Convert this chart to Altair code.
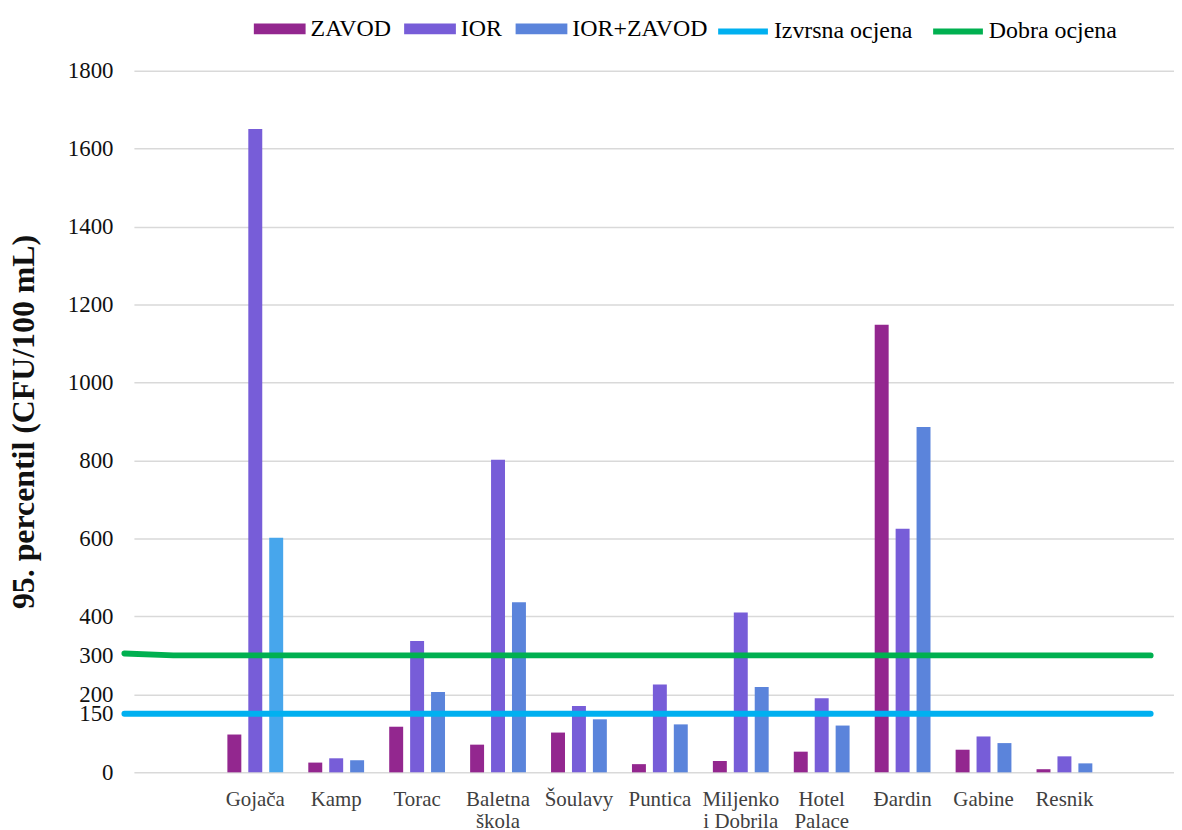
import altair as alt
import pandas as pd

# ---------------- data ----------------
sites = ["Gojača", "Kamp", "Torac", "Baletna škola", "Šoulavy", "Puntica",
         "Miljenko i Dobrila", "Hotel Palace", "Đardin", "Gabine", "Resnik"]
zavod = [97, 25, 117, 71, 102, 21, 29, 53, 1148, 58, 8]
ior = [1650, 36, 337, 802, 170, 225, 410, 190, 625, 92, 41]
ior_zavod = [602, 31, 206, 436, 136, 123, 219, 120, 886, 75, 23]

series_names = ["ZAVOD", "IOR", "IOR+ZAVOD"]
series_colors = ["#93278F", "#775DD8", "#5B84DB"]
highlight_color = "#47A6EC"

# threshold lines (sampled points along the chart)
line_pos = [0, 1, 2, 3, 4, 5, 6, 7, 8, 9, 10, 11, 12, 13, 14, 15, 16, 17, 18, 19, 20, 21]
izvrsna = [150, 150, 150, 150, 150, 150, 150, 150, 150, 150, 150,
           150, 150, 150, 150, 150, 150, 150, 150, 150, 150, 150]
dobra = [305, 300, 300, 300, 300, 300, 300, 300, 300, 300, 300,
         300, 300, 300, 300, 300, 300, 300, 300, 300, 300, 300]
line_names = ["Izvrsna ocjena", "Dobra ocjena"]
line_colors = ["#00B0F0", "#00B050"]

y_ticks = [0, 150, 200, 300, 400, 600, 800, 1000, 1200, 1400, 1600, 1800]
x_domain = [" "] + sites
Y_TITLE = "95. percentil (CFU/100 mL)"

# ---------------- tables ----------------
rows = []
for name, vals in zip(series_names, [zavod, ior, ior_zavod]):
    for s, v in zip(sites, vals):
        rows.append({"site": s, "series": name, "value": v})
bar_df = pd.DataFrame(rows)

lrows = []
for name, vals in zip(line_names, [izvrsna, dobra]):
    for p, v in zip(line_pos, vals):
        lrows.append({"pos": p, "series": name, "value": v})
line_df = pd.DataFrame(lrows)

FONT = "Liberation Serif"
W, H = 1045, 705

y_axis = alt.Axis(
    values=y_ticks, format="d", labelOverlap=False, grid=True, gridColor="#d9d9d9", gridWidth=1.5,
    gridOpacity={"condition": {"test": "datum.value === 150 || datum.value === 300", "value": 0}, "value": 1},
    domain=False, ticks=False, tickSize=0,
    labelFont=FONT, labelFontSize=23, labelColor="#111111", labelPadding=21,
    title=Y_TITLE, titleFont=FONT, titleFontSize=32,
    titleFontWeight="bold", titleColor="#111111", titleAngle=270,
    titleX=-101, titleY=H / 2, titleAlign="center", titleBaseline="alphabetic",
)
y_scale = alt.Scale(domain=[0, 1800], nice=False, zero=True)

bars = alt.Chart(bar_df).mark_bar().encode(
    x=alt.X(
        "site:N",
        sort=x_domain,
        scale=alt.Scale(domain=x_domain, paddingInner=0, paddingOuter=0.427, align=0),
        axis=alt.Axis(
            title=None, labelAngle=0, domain=False, ticks=False, tickSize=0, grid=False,
            labelFont=FONT, labelFontSize=21, labelColor="#404040", labelLineHeight=22,
            labelPadding=16, labelBaseline="top",
            labelExpr="indexof(datum.label, ' ') > 0 ? [slice(datum.label, 0, indexof(datum.label, ' ')), slice(datum.label, indexof(datum.label, ' ') + 1)] : datum.label",
        ),
    ),
    xOffset=alt.XOffset(
        "series:N",
        sort=series_names,
        scale=alt.Scale(domain=series_names, paddingInner=1 / 3, paddingOuter=0.6),
    ),
    y=alt.Y("value:Q", scale=y_scale, axis=y_axis),
    fill=alt.condition(
        (alt.datum.site == "Gojača") & (alt.datum.series == "IOR+ZAVOD"),
        alt.value(highlight_color),
        alt.Fill(
            "series:N",
            sort=series_names,
            scale=alt.Scale(domain=series_names, range=series_colors),
            legend=alt.Legend(
                title=None, orient="none", legendX=120.5, legendY=-68, direction="horizontal",
                symbolType="M-1,-0.21H1V0.21H-1Z", symbolSize=2704, symbolStrokeWidth=0,
                labelFont=FONT, labelFontSize=24, labelColor="#000000", labelOffset=5,
                columnPadding=13, padding=0,
            ),
        ),
    ),
)

lines = alt.Chart(line_df).mark_line(strokeWidth=6, strokeCap="round", strokeJoin="round").encode(
    x=alt.X("pos:Q", scale=alt.Scale(domain=[0, 21], range=[-9.5, 1021.5], nice=False, zero=False), axis=None),
    y=alt.Y("value:Q", scale=y_scale, axis=y_axis),
    stroke=alt.Stroke(
        "series:N",
        sort=line_names,
        scale=alt.Scale(domain=line_names, range=line_colors),
        legend=alt.Legend(
            title=None, orient="none", legendX=584, legendY=-67.3, direction="horizontal",
            symbolType="stroke", symbolSize=2500, symbolStrokeWidth=6,
            labelFont=FONT, labelFontSize=24, labelColor="#000000", labelOffset=3,
            columnPadding=8, padding=0,
        ),
    ),
)

chart = alt.layer(bars, lines).resolve_scale(x="independent").properties(
    width=W, height=H,
    autosize=alt.AutoSizeParams(type="none"),
    padding={"left": 126.5, "top": 61, "right": 0, "bottom": 55},
).configure(
    background="white", font=FONT
).configure_view(
    stroke="transparent", strokeWidth=0
).configure_legend(
    labelFont=FONT, labelFontSize=24, labelColor="#000000"
)

chart.save("out.html", embed_options={"renderer": "svg", "actions": False})
